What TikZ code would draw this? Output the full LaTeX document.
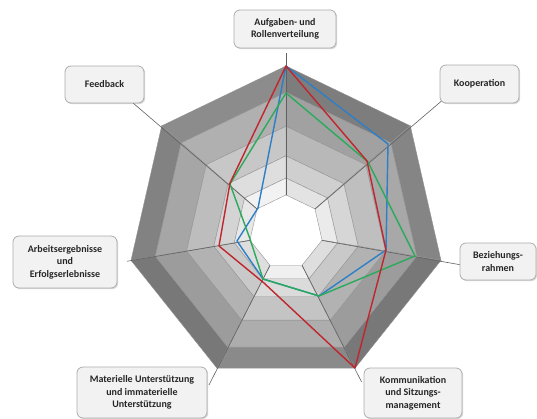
\documentclass[tikz,border=0pt]{standalone}
\usepackage{fontspec}
\setmainfont{Carlito}
\usetikzlibrary{calc,shadows}
\definecolor{redline}{HTML}{C0262D}
\definecolor{blueline}{HTML}{2E7FC6}
\definecolor{greenline}{HTML}{2BAA5C}
\tikzset{
	face/.style={draw=black!42,line width=0.4pt},
	axis/.style={draw=black!62,line width=0.6pt},
	dataline/.style={line width=1.4pt,line join=round},
	lbl/.style={draw=black!32,fill=black!5,rounded corners=6pt,line width=0.8pt,align=center,
		font=\bfseries\fontsize{10}{12.5}\selectfont,text=black!85,inner sep=2pt,
		drop shadow={shadow xshift=1.2pt,shadow yshift=-1.2pt,opacity=0.25,fill=black!60}},
}
\begin{document}
\begin{tikzpicture}[x=1pt,y=1pt]
	\useasboundingbox (0,0) rectangle (537,419);
	% rings: outer radius / inner radius / grey level
	\foreach \ro/\ri/\g in {159/134/52,134/102/66,102/74/75,74/53/84,53/37/92}{
		\foreach \d [count=\i from 0] in {-3,0,-5,2,-5,-1,3}{
			\pgfmathsetmacro\aa{90-\i*360/7}
			\pgfmathsetmacro\ab{90-(\i+1)*360/7}
			\pgfmathsetmacro\yo{194-(159-\ro)*0.057}
			\pgfmathsetmacro\yi{194-(159-\ri)*0.057}
			\pgfmathtruncatemacro\s{\g+\d}
			\filldraw[face,fill=white!\s!black] ($(286,\yo)+(\aa:\ro)$) -- ($(286,\yo)+(\ab:\ro)$)
				-- ($(286,\yi)+(\ab:\ri)$) -- ($(286,\yi)+(\aa:\ri)$) -- cycle;
		}
	}
	% axes
	\foreach \r [count=\i from 0] in {172,199.5,178.5,174,177.6,163,195.7}{
		\pgfmathsetmacro\aa{90-\i*360/7}
		\coordinate (v\i) at ($(286,186.8)+(\aa:37)$);
		\coordinate (e\i) at ($(286,194)+(\aa:\r)$);
		\draw[axis] (v\i) -- (e\i);
	}
	% data
	\draw[dataline,blueline] (286,353) -- (388,275) -- (386,169) -- (319,123) -- (263,140) -- (237,178) -- (258,211) -- cycle;
	\draw[dataline,greenline] (286,326) -- (368,257) -- (415,163) -- (319,123) -- (263,140) -- (250,180) -- (230,235) -- cycle;
	\draw[dataline,redline] (286,353) -- (367,258) -- (386,169) -- (355,51) -- (264,136) -- (219,173) -- (230,236) -- cycle;
	% labels
	\node[lbl,minimum width=102,minimum height=38] (aufg) at (285,390) {Aufgaben- und\\Rollenverteilung};
	\node[lbl,minimum width=79,minimum height=38] (koop) at (479.5,335) {Kooperation};
	\node[lbl,minimum width=76,minimum height=37] (bez) at (498,157.5) {Beziehungs-\\rahmen};
	\node[lbl,minimum width=98,minimum height=50] (komm) at (413,26) {Kommunikation\\und Sitzungs-\\management};
	\node[lbl,minimum width=130,minimum height=51] (mat) at (142,26.5) {Materielle Unterstützung\\und immaterielle\\Unterstützung};
	\node[lbl,minimum width=104,minimum height=52] (arb) at (65,157) {Arbeitsergebnisse\\und\\Erfolgserlebnisse};
	\node[lbl,minimum width=79,minimum height=37] (feed) at (104.5,334.5) {Feedback};
\end{tikzpicture}
\end{document}
